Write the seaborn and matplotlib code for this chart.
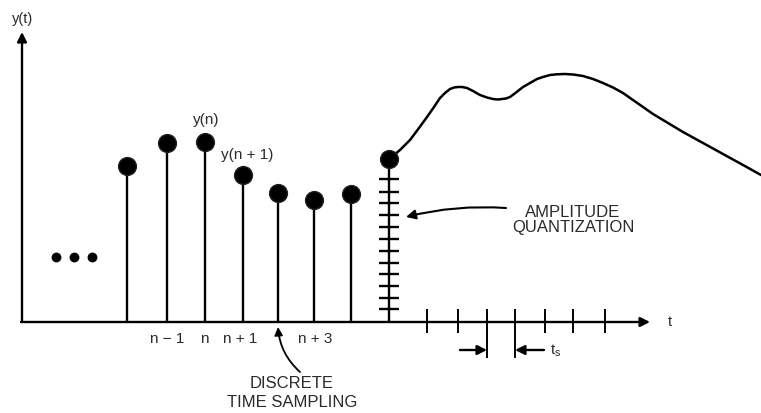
import matplotlib
matplotlib.use("Agg")
import matplotlib.pyplot as plt
import seaborn as sns

# Sample positions and heights (image units, y grows downward)
sample_t = [127, 167, 205, 243, 278, 314, 351, 389]
sample_y = [166, 143, 142, 175, 193, 200, 194, 159]
baseline = 322

# Continuous signal after the last sample
curve_t = [389, 400, 410, 419, 427, 434, 440, 445, 450, 454, 458, 462, 467, 473, 480,
           487, 493, 498, 502, 506, 510, 516, 523, 530, 537, 543, 550, 557,
           565, 574, 583, 593, 603, 613, 623, 633, 643, 653, 663, 673, 683,
           693, 703, 713, 723, 733, 743, 752, 761]
curve_y = [159, 150, 140, 128, 117, 107, 98, 93, 89, 87.5, 87, 87, 88, 91, 95,
           97.5, 99, 99.5, 99, 98.5, 97, 92.5, 87, 83, 79, 77, 75, 74.3,
           74, 74.6, 76, 79, 83, 87.5, 93, 100, 107, 114, 120, 126, 132,
           137.5, 143, 148.5, 154, 159.5, 165, 170, 175]

# Amplitude quantization levels on the last stem
quant_levels = [179, 192, 203, 215, 227, 239, 251, 263, 274, 286, 298, 309]

# Time ticks on the t axis, the two marking t_s are longer
time_ticks = [427, 458, 487, 515, 545, 573, 605]
ts_ticks = [487, 515]

index_labels = ["n \u2212 1", "n", "n + 1", "n + 3"]
index_pos = [167, 204, 240, 315]

sns.set_theme(style="white")
plt.rcParams["font.family"] = ["Liberation Sans", "DejaVu Sans"]
plt.rcParams["mathtext.default"] = "regular"

fig = plt.figure(figsize=(7.61, 4.13), dpi=100)
ax = fig.add_axes([0, 0, 1, 1])
ax.set_xlim(0, 761)
ax.set_ylim(413, 0)
ax.axis("off")

txt = "#2a2a2a"
arrow_kw = dict(arrowstyle="-|>", color="black", lw=1.7, mutation_scale=14,
                shrinkA=0, shrinkB=0)

# axes
ax.annotate("", xy=(22, 32), xytext=(22, baseline), arrowprops=arrow_kw)
ax.annotate("", xy=(650, baseline), xytext=(21, baseline), arrowprops=arrow_kw)
ax.text(23, 19, "y(t)", ha="center", va="center", fontsize=10.5, color=txt)
ax.text(670, 322, "t", ha="center", va="center", fontsize=10.5, color=txt)

# stems and sample dots
ax.vlines(sample_t, baseline, sample_y, color="black", lw=1.7)
sns.scatterplot(x=sample_t, y=sample_y, s=165, color="black", edgecolor="#222222",
                linewidth=1, zorder=3, ax=ax, legend=False)

# continuous curve
sns.lineplot(x=curve_t, y=curve_y, sort=False, color="black", lw=1.8, ax=ax)

# quantization ticks
ax.hlines(quant_levels, 379, 399, color="black", lw=1.7)

# time ticks
short = [t for t in time_ticks if t not in ts_ticks]
ax.vlines(short, 309, 333, color="black", lw=1.4)
ax.vlines(ts_ticks, 309, 358, color="black", lw=1.4)
ax.annotate("", xy=(487, 350), xytext=(460, 350), arrowprops=arrow_kw)
ax.annotate("", xy=(515, 350), xytext=(544, 350), arrowprops=arrow_kw)
ax.text(550, 351, "t$_s$", ha="left", va="center", fontsize=11, color=txt)

# labels
for lab, pos in zip(index_labels, index_pos):
    ax.text(pos, 339, lab, ha="center", va="center", fontsize=11, color=txt)
ax.text(206, 120, "y(n)", ha="center", va="center", fontsize=11, color=txt)
ax.text(247, 155, "y(n + 1)", ha="center", va="center", fontsize=11, color=txt)

# leading dots
sns.scatterplot(x=[56, 74, 92], y=[257, 257, 257], s=50, color="black",
                linewidth=0, ax=ax, legend=False)

ax.text(573, 220, "AMPLITUDE\nQUANTIZATION", ha="center", va="center",
        fontsize=12, color=txt, linespacing=1.0)
ax.annotate("", xy=(406, 217), xytext=(506, 208),
            arrowprops=dict(arrowstyle="-|>", color="black", lw=1.5,
                            mutation_scale=14, shrinkA=0, shrinkB=0,
                            connectionstyle="arc3,rad=0.08"))

ax.text(292, 393, "DISCRETE\nTIME SAMPLING", ha="center", va="center",
        fontsize=12, color=txt, linespacing=1.3)
ax.annotate("", xy=(278, 327), xytext=(300, 372),
            arrowprops=dict(arrowstyle="-|>", color="black", lw=1.3,
                            mutation_scale=12, shrinkA=0, shrinkB=0,
                            connectionstyle="arc3,rad=-0.2"))

fig.savefig("out.png", dpi=100)
